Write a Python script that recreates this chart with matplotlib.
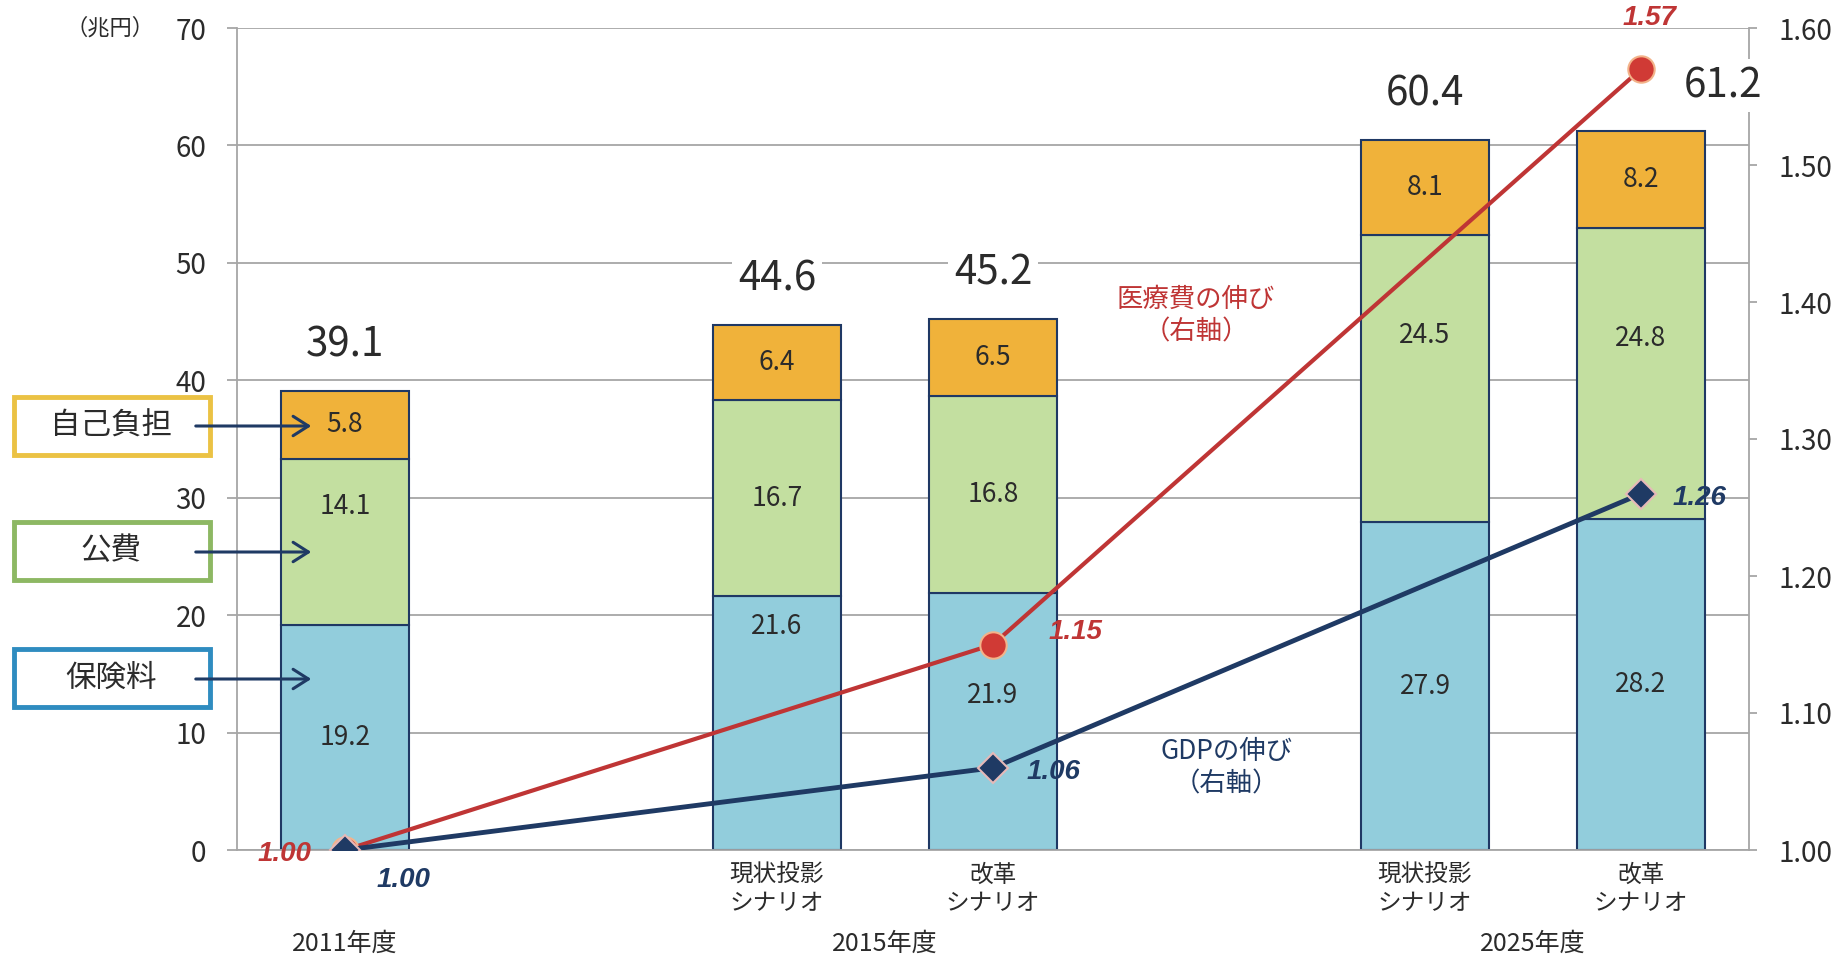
import matplotlib
matplotlib.use('Agg')
from matplotlib import pyplot as plt
from matplotlib.patches import Rectangle, FancyArrowPatch
from matplotlib.ticker import FormatStrFormatter

plt.rcParams['font.family'] = ['Noto Sans CJK JP', 'DejaVu Sans']

# bars (兆円)
positions = [0, 2, 3, 5, 6]
scenarios = ['', '現状投影\nシナリオ', '改革\nシナリオ', '現状投影\nシナリオ', '改革\nシナリオ']
premium = [19.2, 21.6, 21.9, 27.9, 28.2]   # 保険料
public = [14.1, 16.7, 16.8, 24.5, 24.8]    # 公費
copay = [5.8, 6.4, 6.5, 8.1, 8.2]          # 自己負担
totals = [39.1, 44.6, 45.2, 60.4, 61.2]

years = ['2011年度', '2015年度', '2025年度']
year_pos = [0, 2.5, 5.5]

# growth index (right axis)
line_pos = [0, 3, 6]
medical_growth = [1.00, 1.15, 1.57]
gdp_growth = [1.00, 1.06, 1.26]

c_prem = '#92CDDC'
c_pub = '#C3DFA0'
c_copay = '#F0B23A'
c_edge = '#1F3864'
c_red = '#BF3535'
c_navy = '#1F3A64'
c_text = '#2B2B2B'
c_grid = '#A6A6A6'

W, H = 1848, 961
fig = plt.figure(figsize=(W / 100, H / 100), dpi=100)
ax = fig.add_axes([237 / W, 1 - 850 / H, (1749 - 237) / W, (850 - 28) / H])

bw = 0.59
bot2 = [a + b for a, b in zip(premium, public)]
ax.bar(positions, premium, bw, color=c_prem, edgecolor=c_edge, lw=1.5, zorder=2)
ax.bar(positions, public, bw, bottom=premium, color=c_pub, edgecolor=c_edge, lw=1.5, zorder=2)
ax.bar(positions, copay, bw, bottom=bot2, color=c_copay, edgecolor=c_edge, lw=1.5, zorder=2)

# segment labels, some nudged away from arrows / lines
prem_shift = [0, 8.2, 2.2, 0, 0]
pub_shift = [3.0, 0, 0, 3.7, 3.0]
for i, x in enumerate(positions):
    ax.text(x, premium[i] / 2 + prem_shift[i], f'{premium[i]:.1f}', ha='center', va='center',
            fontsize=19, color=c_text, zorder=5)
    ax.text(x, premium[i] + public[i] / 2 + pub_shift[i], f'{public[i]:.1f}', ha='center', va='center',
            fontsize=19, color=c_text, zorder=5)
    ax.text(x, bot2[i] + copay[i] / 2, f'{copay[i]:.1f}', ha='center', va='center',
            fontsize=19, color=c_text, zorder=5)

ax.set_xlim(-0.5, 6.5)
ax.set_ylim(0, 70)
ax.set_yticks(range(0, 71, 10))
ax.yaxis.grid(True, color=c_grid, lw=1.3)
ax.set_axisbelow(True)
ax.tick_params(axis='y', labelsize=20, colors=c_grid, labelcolor=c_text, length=7, width=1.3, pad=15)
ax.set_xticks(positions)
ax.set_xticklabels(scenarios, fontsize=17, color=c_text, linespacing=1.3)
ax.tick_params(axis='x', length=0, pad=10)
for s in ['top', 'right']:
    ax.spines[s].set_visible(False)
ax.spines['left'].set_color(c_grid)
ax.spines['bottom'].set_color(c_grid)
ax.spines['left'].set_linewidth(1.3)
ax.spines['bottom'].set_linewidth(1.3)

for yl, xp in zip(years, year_pos):
    ax.text(xp, -8.0, yl, ha='center', va='center', fontsize=18, color=c_text)

ax.text(-0.88, 70, '（兆円）', ha='right', va='center', fontsize=16, color=c_text)

# right axis lines
ax2 = ax.twinx()
ax2.set_ylim(1.0, 1.6)
ax2.set_yticks([1.0, 1.1, 1.2, 1.3, 1.4, 1.5, 1.6])
ax2.yaxis.set_major_formatter(FormatStrFormatter('%.2f'))
ax2.tick_params(axis='y', labelsize=20, colors=c_grid, labelcolor=c_text, length=6, width=1.3, pad=15)
for s in ['top', 'left', 'bottom']:
    ax2.spines[s].set_visible(False)
ax2.spines['right'].set_color(c_grid)
ax2.spines['right'].set_linewidth(1.3)

ax2.plot(line_pos, medical_growth, color=c_red, lw=3, marker='o', ms=19,
         markerfacecolor='#D03A35', markeredgecolor='#F3B38A', markeredgewidth=1.5, zorder=4)
ax2.plot(line_pos, gdp_growth, color=c_navy, lw=3.5, marker='D', ms=15,
         markerfacecolor=c_navy, markeredgecolor='#E6B9B8', markeredgewidth=1.5, zorder=4)

# bar totals with white backing (they break the gridlines and right axis)
tot_xshift = [0, 0, 0, 0, 0.38]
for i, x in enumerate(positions):
    top = bot2[i] + copay[i]
    ax2.text(x + tot_xshift[i], top + 3.9, f'{totals[i]:.1f}', transform=ax.transData,
             ha='center', va='center', fontsize=29, color=c_text, zorder=6,
             bbox=dict(boxstyle='square,pad=0.15', facecolor='white', edgecolor='none'))

lab_font = dict(family='Liberation Sans', weight='bold', style='italic', fontsize=20)
ax2.text(line_pos[0] - 0.28, medical_growth[0] - 0.003, f'{medical_growth[0]:.2f}', color=c_red,
         ha='center', va='center', **lab_font)
ax2.text(line_pos[1] + 0.38, medical_growth[1] + 0.009, f'{medical_growth[1]:.2f}', color=c_red,
         ha='center', va='center', **lab_font)
ax2.text(line_pos[2] + 0.04, medical_growth[2] + 0.037, f'{medical_growth[2]:.2f}', color=c_red,
         ha='center', va='center', **lab_font)
ax2.text(line_pos[0] + 0.27, gdp_growth[0] - 0.022, f'{gdp_growth[0]:.2f}', color=c_navy,
         ha='center', va='center', **lab_font)
ax2.text(line_pos[1] + 0.28, gdp_growth[1] - 0.003, f'{gdp_growth[1]:.2f}', color=c_navy,
         ha='center', va='center', **lab_font)
ax2.text(line_pos[2] + 0.27, gdp_growth[2] - 0.003, f'{gdp_growth[2]:.2f}', color=c_navy,
         ha='center', va='center', **lab_font)

ax2.text(3.94, 1.39, '医療費の伸び\n（右軸）', color=c_red, ha='center', va='center',
         fontsize=19, linespacing=1.3)
ax2.text(4.08, 1.06, 'GDPの伸び\n（右軸）', color=c_navy, ha='center', va='center',
         fontsize=19, linespacing=1.3)

# legend boxes with arrows into the 2011 bar
boxes = [('自己負担', '#EBC244', 397, 426), ('公費', '#8DB863', 522, 552), ('保険料', '#2F8CC0', 649, 679)]
for name, col, ytop, yarrow in boxes:
    fig.add_artist(Rectangle((14 / W, 1 - (ytop + 58) / H), 196 / W, 58 / H, transform=fig.transFigure,
                             facecolor='white', edgecolor=col, lw=3.5, zorder=3))
    fig.text(111 / W, 1 - (ytop + 29) / H, name, ha='center', va='center', fontsize=22,
             color=c_text, zorder=4)
    fig.add_artist(FancyArrowPatch(
        (193 / W, 1 - yarrow / H), (314 / W, 1 - yarrow / H), transform=fig.transFigure,
        arrowstyle='->,head_length=11,head_width=7', color=c_navy, lw=2.2, zorder=6,
        mutation_scale=1))

fig.savefig('out.png', dpi=100)
